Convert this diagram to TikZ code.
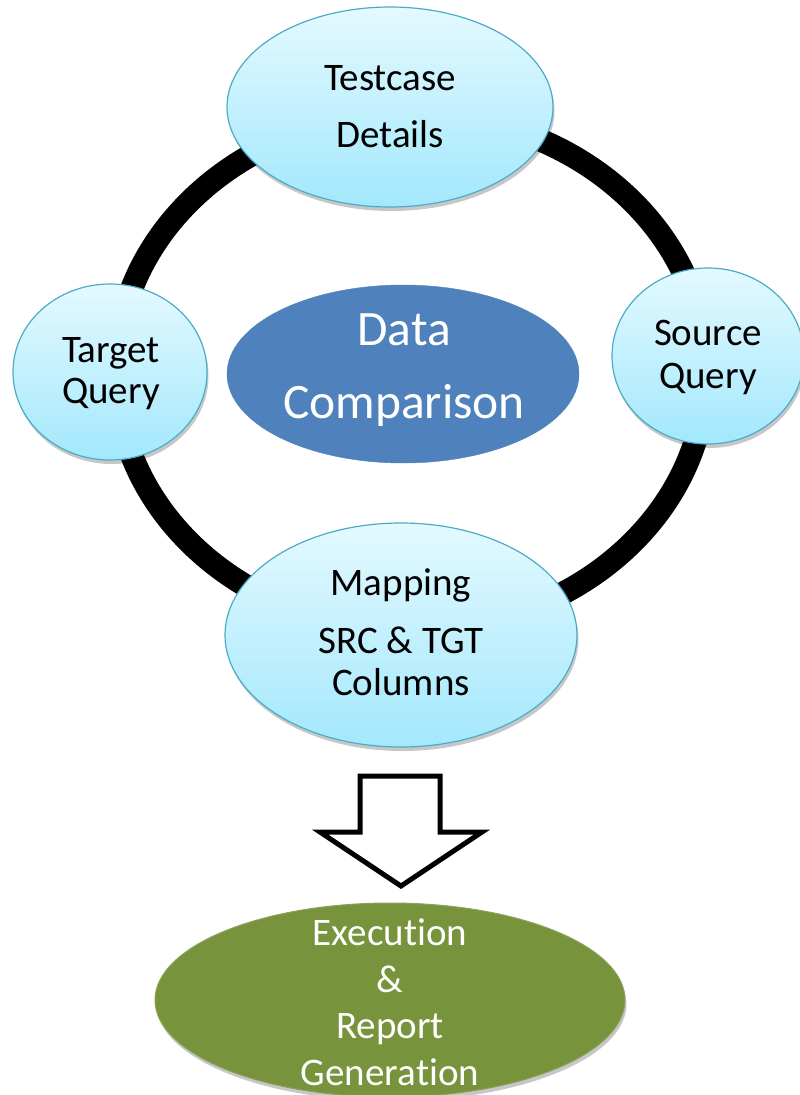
\documentclass[tikz,border=0pt]{standalone}
\usepackage{fontspec}
\setmainfont{Carlito}[Ligatures=CommonOff]
\usetikzlibrary{shapes.geometric,shadows}
\definecolor{ctop}{RGB}{228,249,255}
\definecolor{cbot}{RGB}{163,232,252}
\definecolor{cedge}{RGB}{75,172,198}
\definecolor{cblue}{RGB}{79,129,189}
\definecolor{cgreen}{RGB}{119,147,60}
\tikzset{
  lightell/.style={ellipse, draw=cedge, line width=1.2pt, top color=ctop, bottom color=cbot,
    inner sep=0pt, drop shadow={shadow xshift=1.5pt, shadow yshift=-4pt, opacity=0.22, fill=black}},
  blueell/.style={ellipse, fill=cblue, draw=cblue, inner sep=0pt},
  greenell/.style={ellipse, fill=cgreen, draw=cgreen!85!white, line width=1pt, inner sep=0pt,
    drop shadow={shadow xshift=1.5pt, shadow yshift=-4pt, opacity=0.22, fill=black}},
  dtext/.style={anchor=base, inner sep=0pt, font=\fontsize{39}{46}\selectfont, text=black},
  wtext/.style={anchor=base, inner sep=0pt, font=\fontsize{49.5}{58}\selectfont, text=white},
  gtext/.style={anchor=base, inner sep=0pt, font=\fontsize{39}{46}\selectfont, text=white},
  ring/.style={line width=23pt, draw=black},
  blockarrow/.style={draw=black, line width=5pt, fill=white, miter limit=10}
}
\begin{document}
\begin{tikzpicture}[x=1pt, y=-1pt]
\useasboundingbox (0,0) rectangle (800,1095);
% ring
\draw[ring] (411,372) ellipse [x radius=295pt, y radius=258pt];
% nodes
\node[lightell, minimum width=326pt, minimum height=200pt] (testcase) at (390,107) {};
\node[lightell, minimum width=194pt, minimum height=176pt] (target) at (110,372) {};
\node[lightell, minimum width=192pt, minimum height=176pt] (source) at (708,356) {};
\node[lightell, minimum width=352pt, minimum height=224pt] (mapping) at (401,635) {};
\node[blueell, minimum width=352pt, minimum height=178pt] (datacomp) at (403,374) {};
\node[greenell, minimum width=470pt, minimum height=194pt] (exec) at (390,1000) {};
% texts
\node[dtext] (t1) at (390,90) {Testcase};
\node[dtext] (t2) at (390,147) {Details};
\node[dtext] (g1) at (111,362) {Target};
\node[dtext] (g2) at (111,403) {Query};
\node[dtext] (s1) at (708,345) {Source};
\node[dtext] (s2) at (708,388) {Query};
\node[dtext] (m1) at (401,595) {Mapping};
\node[dtext] (m2) at (401,653) {SRC \& TGT};
\node[dtext] (m3) at (401,695) {Columns};
\node[wtext] (d1) at (404,345) {Data};
\node[wtext] (d2) at (404,418) {Comparison};
\node[gtext] (e1) at (390,945) {Execution};
\node[gtext] (e2) at (390,992) {\&};
\node[gtext] (e3) at (390,1038) {Report};
\node[gtext] (e4) at (390,1085) {Generation};
% block arrow
\coordinate (a1) at (360,776);
\coordinate (a2) at (440,776);
\coordinate (a3) at (440,832);
\coordinate (a4) at (482,832);
\coordinate (a5) at (401,886);
\coordinate (a6) at (320,832);
\coordinate (a7) at (360,832);
\draw[blockarrow] (a1) -- (a2) -- (a3) -- (a4) -- (a5) -- (a6) -- (a7) -- cycle;
\end{tikzpicture}
\end{document}
